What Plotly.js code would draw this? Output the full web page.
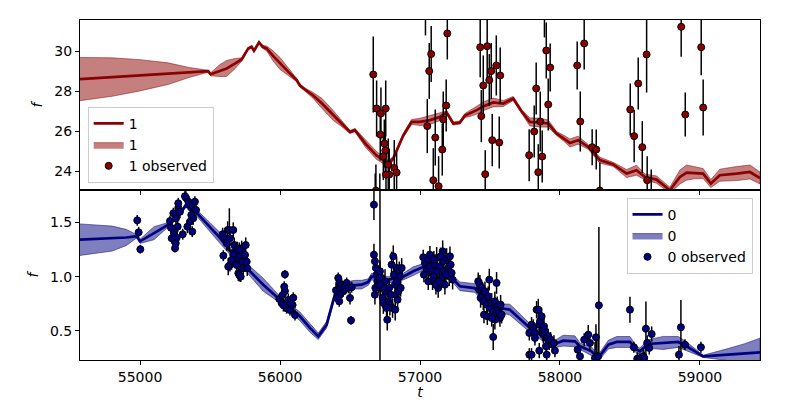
<!DOCTYPE html>
<html>
<head>
<meta charset="utf-8">
<script src="https://cdn.plot.ly/plotly-3.0.1.min.js"></script>
<style>html,body{margin:0;padding:0;background:#fff}#chart{width:800px;height:400px}</style>
</head>
<body>
<div id="chart"></div>
<script>
// ---- Series "1" (top panel): model curve ----
const modelT1 = [54571,54800,55000,55200,55350,55487,55505,55571,55619,55680,55726,55773,55797,55814,55850,55876,55904,55950,56000,56060,56119,56142,56178,56237,56300,56380,56440,56500,56535,56610,56690,56773,56809,56880,56940,57000,57071,57142,57190,57238,57285,57321,57357,57405,57460,57523,57595,57666,57726,57785,57850,57916,57976,58030,58071,58130,58202,58285,58380,58476,58547,58607,58690,58785,58857,58905,58960,59023,59078,59142,59262,59357,59429];
const modelY1 = [28.62,28.72,28.81,28.89,28.95,29.01,28.86,29.05,29.15,29.4,29.6,30.15,30.23,30.03,30.45,30.23,30.15,29.78,29.4,28.98,28.57,28.3,28.1,27.8,27.4,26.8,26.4,25.98,26.07,25.4,24.8,24.4,24.65,25.8,26.48,26.48,26.57,26.73,26.95,26.4,26.45,26.8,26.9,27.07,27.28,27.45,27.4,27.65,27.0,26.48,26.45,26.4,25.9,25.65,25.43,25.57,25.23,24.57,24.36,23.9,24.07,23.73,23.6,23.07,23.73,23.95,23.94,23.9,23.4,23.82,23.9,23.98,23.68];
const modelS1 = [1.08,0.96,0.78,0.54,0.25,0.05,0.08,0.3,0.4,0.25,0.08,0.06,0.06,0.06,0.06,0.08,0.12,0.25,0.3,0.2,0.08,0.08,0.08,0.15,0.25,0.25,0.15,0.08,0.08,0.18,0.2,0.15,0.1,0.1,0.12,0.18,0.22,0.18,0.08,0.08,0.08,0.1,0.15,0.2,0.22,0.22,0.15,0.1,0.1,0.2,0.22,0.18,0.1,0.15,0.2,0.2,0.12,0.15,0.1,0.2,0.25,0.15,0.18,0.15,0.35,0.38,0.3,0.25,0.2,0.3,0.35,0.35,0.3];

// ---- Series "1" observed ----
const obsT1 = [56666,56690,56721,56755,56716,56745,56752,56738,56773,56816,56833,56780,56757,56685,56680,56713,
  57052,57066,57080,57195,57095,57109,57133,57159,57166,57187,57039,
  57430,57480,57452,57438,57466,57495,57509,57545,57573,57516,57566,
  57780,57816,57830,57845,57859,57873,57902,57916,57930,57889,
  58123,58145,58173,58230,58259,58285,
  58502,58530,58559,58588,58619,58623,58652,
  58866,58895,59009,59023];
const obsY1 = [28.85,27.15,26.9,27.15,25.85,25.4,25.05,24.77,24.35,24.18,23.95,23.85,23.85,23.05,22.3,22.2,
  26.27,29.02,29.87,30.9,23.57,25.7,23.27,25.1,26.6,27.3,32.0,
  30.21,30.26,28.3,26.77,23.87,28.57,29.02,29.3,28.8,25.57,25.45,
  24.82,26.0,28.15,23.97,26.5,24.75,30.05,27.35,29.2,32.2,
  29.3,26.5,30.4,25.22,25.1,23.05,
  27.1,25.77,28.4,25.22,29.85,23.57,22.9,
  31.23,26.85,30.21,27.2];
const obsE1 = [1.9,1.4,1.3,1.4,1.3,1.2,1.3,1.2,1.3,1.4,1.0,1.3,1.2,1.3,1.6,1.7,
  1.35,1.4,1.4,1.3,1.6,1.4,1.5,1.3,1.4,1.3,1.2,
  1.5,1.6,1.5,1.3,1.2,1.3,1.4,1.5,1.4,1.3,1.3,
  1.3,1.3,1.3,1.4,1.5,1.3,1.4,1.3,1.2,1.5,
  1.2,1.5,1.3,0.9,1.0,1.4,
  1.3,1.3,1.3,1.3,1.9,1.2,1.2,
  1.5,1.1,1.4,1.4];

// ---- Series "0" (bottom panel): model curve ----
const modelT0 = [54571,54800,54900,54976,55000,55100,55202,55297,55328,55357,55405,55571,55666,55762,55880,56000,56142,56214,56273,56333,56392,56428,56535,56583,56630,56654,56771,56880,56952,57035,57142,57226,57285,57392,57440,57571,57642,57785,57857,57952,58023,58107,58143,58226,58273,58345,58405,58500,58548,58571,58630,58738,58845,58905,59023,59200,59320,59429];
const modelY0 = [1.34,1.35,1.36,1.371,1.325,1.40,1.478,1.6,1.66,1.616,1.586,1.356,1.2,1.08,0.926,0.788,0.635,0.528,0.451,0.558,0.834,0.911,0.926,0.926,0.95,1.0,0.97,1.0,1.05,1.095,1.08,0.99,0.911,0.895,0.82,0.711,0.696,0.528,0.466,0.374,0.411,0.405,0.359,0.313,0.25,0.374,0.399,0.399,0.328,0.313,0.38,0.39,0.399,0.359,0.267,0.283,0.293,0.304];
const modelS0 = [0.145,0.115,0.075,0.015,0.02,0.06,0.02,0.02,0.02,0.02,0.03,0.05,0.03,0.04,0.06,0.03,0.04,0.04,0.03,0.03,0.03,0.03,0.04,0.04,0.03,0.03,0.03,0.03,0.04,0.03,0.03,0.03,0.04,0.04,0.03,0.04,0.05,0.04,0.04,0.03,0.05,0.05,0.03,0.04,0.03,0.04,0.05,0.05,0.03,0.03,0.04,0.06,0.05,0.04,0.01,0.055,0.09,0.13];

// ---- Series "0" observed ----
const obsT0 = [54980,54990,55002,
  55214,55221,55226,55238,55243,55250,55255,55257,55269,55273,55285,55273,55305,55328,55345,55338,55357,55366,55373,55380,55392,55400,55366,55262,55321,
  55590,55595,55607,55619,55626,55638,55642,55666,55673,55678,55685,55690,55695,55702,55709,55714,55726,55733,55737,55750,55755,55762,55766,55666,55654,55709,55642,55630,55719,
  55995,56012,56019,56035,56035,56047,56059,56071,56090,56095,56107,56078,56024,56030,
  56400,56416,56423,56428,56423,56440,56452,56464,56476,56488,56500,56512,56428,56409,56507,
  56671,56671,56678,56685,56690,56695,56681,56678,56714,56726,56719,56733,56738,56750,56757,56766,56773,56780,56785,56797,56809,56814,56821,56828,56833,56837,56845,56852,56857,56862,56804,56823,56761,56738,56702,56790,56840,56869,56709,56714,
  57023,57035,57047,57028,57059,57071,57083,57095,57090,57107,57119,57123,57130,57142,57154,57162,57166,57171,57178,57190,57202,57209,57219,57226,57233,57059,57114,57147,57185,57214,57071,57099,57137,
  57416,57428,57423,57440,57447,57433,57452,57464,57476,57487,57495,57499,57512,57523,57535,57542,57547,57552,57559,57566,57571,57576,57583,57523,57457,57535,57481,57512,
  57781,57781,57797,57809,57821,57833,57845,57852,57857,57869,57876,57881,57893,57905,57916,57923,57933,57947,57957,57964,57852,57905,57797,57821,57886,57900,
  58126,58143,58173,58202,58214,58257,58262,58278,58250,58273,
  58500,58528,58552,58566,58595,58614,58623,58638,58655,58602,
  58850,58864,58893,59007];
const obsY0 = [1.518,1.408,1.252,
  1.512,1.45,1.353,1.583,1.399,1.261,1.307,1.537,1.46,1.634,1.597,1.675,1.39,1.726,1.69,1.46,1.506,1.66,1.414,1.537,1.69,1.613,1.567,1.358,1.739,
  1.39,1.193,1.353,1.307,1.429,1.429,1.107,1.429,1.291,1.23,1.169,1.107,1.261,1.031,1.015,1.2,1.261,1.138,1.077,1.2,1.291,1.138,1.077,1.2,1.153,1.245,1.353,1.092,1.0,
  0.794,0.755,0.831,0.868,1.021,0.709,0.785,0.693,0.739,0.806,0.647,0.755,0.739,0.908,
  0.874,0.988,0.942,0.896,0.773,0.926,0.865,0.911,0.942,0.896,0.804,0.902,0.834,0.804,0.598,
  1.662,1.202,1.141,1.08,1.018,0.957,0.896,0.834,1.049,0.988,0.896,0.804,0.758,0.957,0.865,0.604,0.773,0.896,0.742,1.11,1.187,1.018,0.926,0.834,1.08,0.957,0.865,1.049,1.003,0.896,0.711,0.696,0.711,0.896,0.926,0.834,0.788,1.08,0.988,0.93,
  1.178,1.126,1.064,1.018,1.156,1.095,1.049,1.003,0.957,1.11,1.172,1.049,0.896,1.095,0.988,1.233,1.141,1.049,0.926,1.172,1.08,1.003,1.11,1.034,0.972,0.957,0.926,1.187,1.018,1.187,1.202,1.156,0.957,
  0.957,0.926,0.88,0.896,0.82,0.804,0.773,0.865,0.742,0.82,0.972,0.711,0.758,0.681,0.773,0.65,0.942,0.727,0.696,0.666,0.62,0.742,0.65,0.445,0.65,0.604,0.635,0.62,
  0.482,0.282,0.558,0.528,0.482,0.696,0.696,0.558,0.589,0.635,0.497,0.466,0.497,0.436,0.451,0.405,0.42,0.374,0.39,0.319,0.319,0.282,0.282,0.436,0.543,0.359,
  0.328,0.267,0.42,0.466,0.39,0.442,0.267,0.736,0.252,0.267,
  0.696,0.35,0.245,0.236,0.267,0.521,0.39,0.344,0.472,0.252,
  0.282,0.534,0.374,0.35];
const obsE0 = [0.05,0.05,0.04,
  0.05,0.06,0.05,0.05,0.06,0.04,0.05,0.06,0.05,0.05,0.06,0.05,0.05,0.06,0.05,0.06,0.05,0.04,0.05,0.06,0.05,0.05,0.06,0.05,0.05,
  0.06,0.05,0.06,0.07,0.08,0.2,0.06,0.07,0.07,0.06,0.08,0.07,0.06,0.07,0.06,0.08,0.07,0.06,0.07,0.08,0.07,0.06,0.07,0.08,0.09,0.07,0.07,0.08,0.05,
  0.05,0.05,0.06,0.05,0.04,0.05,0.06,0.05,0.06,0.05,0.05,0.05,0.06,0.05,
  0.06,0.05,0.05,0.06,0.05,0.06,0.05,0.06,0.05,0.05,0.06,0.05,0.07,0.06,0.04,
  0.14,0.1,0.09,0.1,0.11,0.09,0.1,0.09,0.1,0.09,0.1,0.09,0.1,0.11,0.09,0.1,0.08,0.09,0.1,0.12,0.1,0.09,0.1,0.08,0.1,0.09,0.1,0.09,0.1,0.08,0.09,0.1,0.09,0.1,0.08,0.09,0.08,0.09,0.1,1.3,
  0.07,0.08,0.09,0.07,0.08,0.09,0.08,0.1,0.08,0.09,0.1,0.08,0.09,0.08,0.09,0.1,0.09,0.08,0.09,0.09,0.08,0.09,0.08,0.08,0.09,0.08,0.09,0.08,0.08,0.09,0.08,0.08,0.09,
  0.08,0.09,0.08,0.07,0.08,0.09,0.08,0.09,0.08,0.09,0.1,0.08,0.09,0.08,0.09,0.08,0.1,0.09,0.08,0.09,0.08,0.09,0.08,0.12,0.08,0.09,0.08,0.08,
  0.07,0.06,0.07,0.08,0.09,0.08,0.1,0.08,0.09,0.08,0.09,0.08,0.07,0.08,0.07,0.08,0.07,0.06,0.07,0.06,0.07,0.06,0.06,0.07,0.08,0.07,
  0.06,0.07,0.06,0.09,0.07,0.12,0.2,0.72,0.15,0.2,
  0.12,0.05,0.06,0.06,0.07,0.25,0.07,0.06,0.07,0.06,
  0.08,0.25,0.05,0.05];

// ---- helpers to build band outlines from the arrays ----
function bandX(t){ return t.concat(t.slice().reverse()); }
function bandY(y, s){
  const up = y.map((v,i)=>v+s[i]);
  const lo = y.map((v,i)=>v-s[i]).reverse();
  return up.concat(lo);
}

const red = '#8B0000', navy = '#000080';
const errStyle = {type:'data', visible:true, color:'black', thickness:1.5, width:0};

const traces = [
  {x: bandX(modelT1), y: bandY(modelY1, modelS1), xaxis:'x', yaxis:'y', type:'scatter', mode:'lines',
   fill:'toself', fillcolor:'rgba(139,0,0,0.5)', line:{color:'rgba(139,0,0,0.5)', width:1},
   name:'1', legend:'legend', legendrank:2, hoverinfo:'skip'},
  {x: modelT1, y: modelY1, xaxis:'x', yaxis:'y', type:'scatter', mode:'lines',
   line:{color:red, width:2.7}, name:'1', legend:'legend', legendrank:1},
  {x: obsT1, y: obsY1, xaxis:'x', yaxis:'y', type:'scatter', mode:'markers',
   marker:{color:red, size:7, line:{color:'black', width:1}},
   error_y: Object.assign({array: obsE1}, errStyle), name:'1 observed', legend:'legend', legendrank:3},

  {x: bandX(modelT0), y: bandY(modelY0, modelS0), xaxis:'x2', yaxis:'y2', type:'scatter', mode:'lines',
   fill:'toself', fillcolor:'rgba(0,0,128,0.5)', line:{color:'rgba(0,0,128,0.5)', width:1},
   name:'0', legend:'legend2', legendrank:2, hoverinfo:'skip'},
  {x: modelT0, y: modelY0, xaxis:'x2', yaxis:'y2', type:'scatter', mode:'lines',
   line:{color:navy, width:2.7}, name:'0', legend:'legend2', legendrank:1},
  {x: obsT0, y: obsY0, xaxis:'x2', yaxis:'y2', type:'scatter', mode:'markers',
   marker:{color:navy, size:7, line:{color:'black', width:1}},
   error_y: Object.assign({array: obsE0}, errStyle), name:'0 observed', legend:'legend2', legendrank:3}
];

const font = {family:'DejaVu Sans, sans-serif', size:14, color:'black'};
const axisCommon = {showline:true, mirror:true, linecolor:'black', linewidth:1, ticks:'outside', ticklen:4,
  tickwidth:1, tickcolor:'black', showgrid:false, zeroline:false, tickfont:font};

const layout = {
  width:800, height:400,
  margin:{l:80, r:40, t:20, b:40, pad:0},
  paper_bgcolor:'white', plot_bgcolor:'white',
  font: font,
  showlegend:true,
  xaxis: Object.assign({}, axisCommon, {domain:[0,1], anchor:'y', range:[54571,59429], showticklabels:false,
    matches:'x2', tickvals:[55000,56000,57000,58000,59000]}),
  yaxis: Object.assign({}, axisCommon, {domain:[0.5,1], anchor:'x', range:[23.08,31.57], tickvals:[24,26,28,30],
    title:{text:'<i>f</i>', font:font, standoff:8}}),
  xaxis2: Object.assign({}, axisCommon, {domain:[0,1], anchor:'y2', range:[54571,59429], tickformat:'d',
    tickvals:[55000,56000,57000,58000,59000], title:{text:'<i>t</i>', font:font, standoff:4}}),
  yaxis2: Object.assign({}, axisCommon, {domain:[0,0.5], anchor:'x2', range:[0.233,1.797], tickvals:[0.5,1.0,1.5],
    tickformat:'.1f', title:{text:'<i>f</i>', font:font, standoff:8}}),
  legend: {x:0.0113, y:0.521, xanchor:'left', yanchor:'bottom', bgcolor:'rgba(255,255,255,0.8)',
    bordercolor:'#cccccc', borderwidth:1, font:font, traceorder:'normal', itemwidth:30},
  legend2: {x:0.989, y:0.477, xanchor:'right', yanchor:'top', bgcolor:'rgba(255,255,255,0.8)',
    bordercolor:'#cccccc', borderwidth:1, font:font, traceorder:'normal', itemwidth:30}
};

Plotly.newPlot('chart', traces, layout, {displayModeBar:false, staticPlot:true});
</script>
</body>
</html>
